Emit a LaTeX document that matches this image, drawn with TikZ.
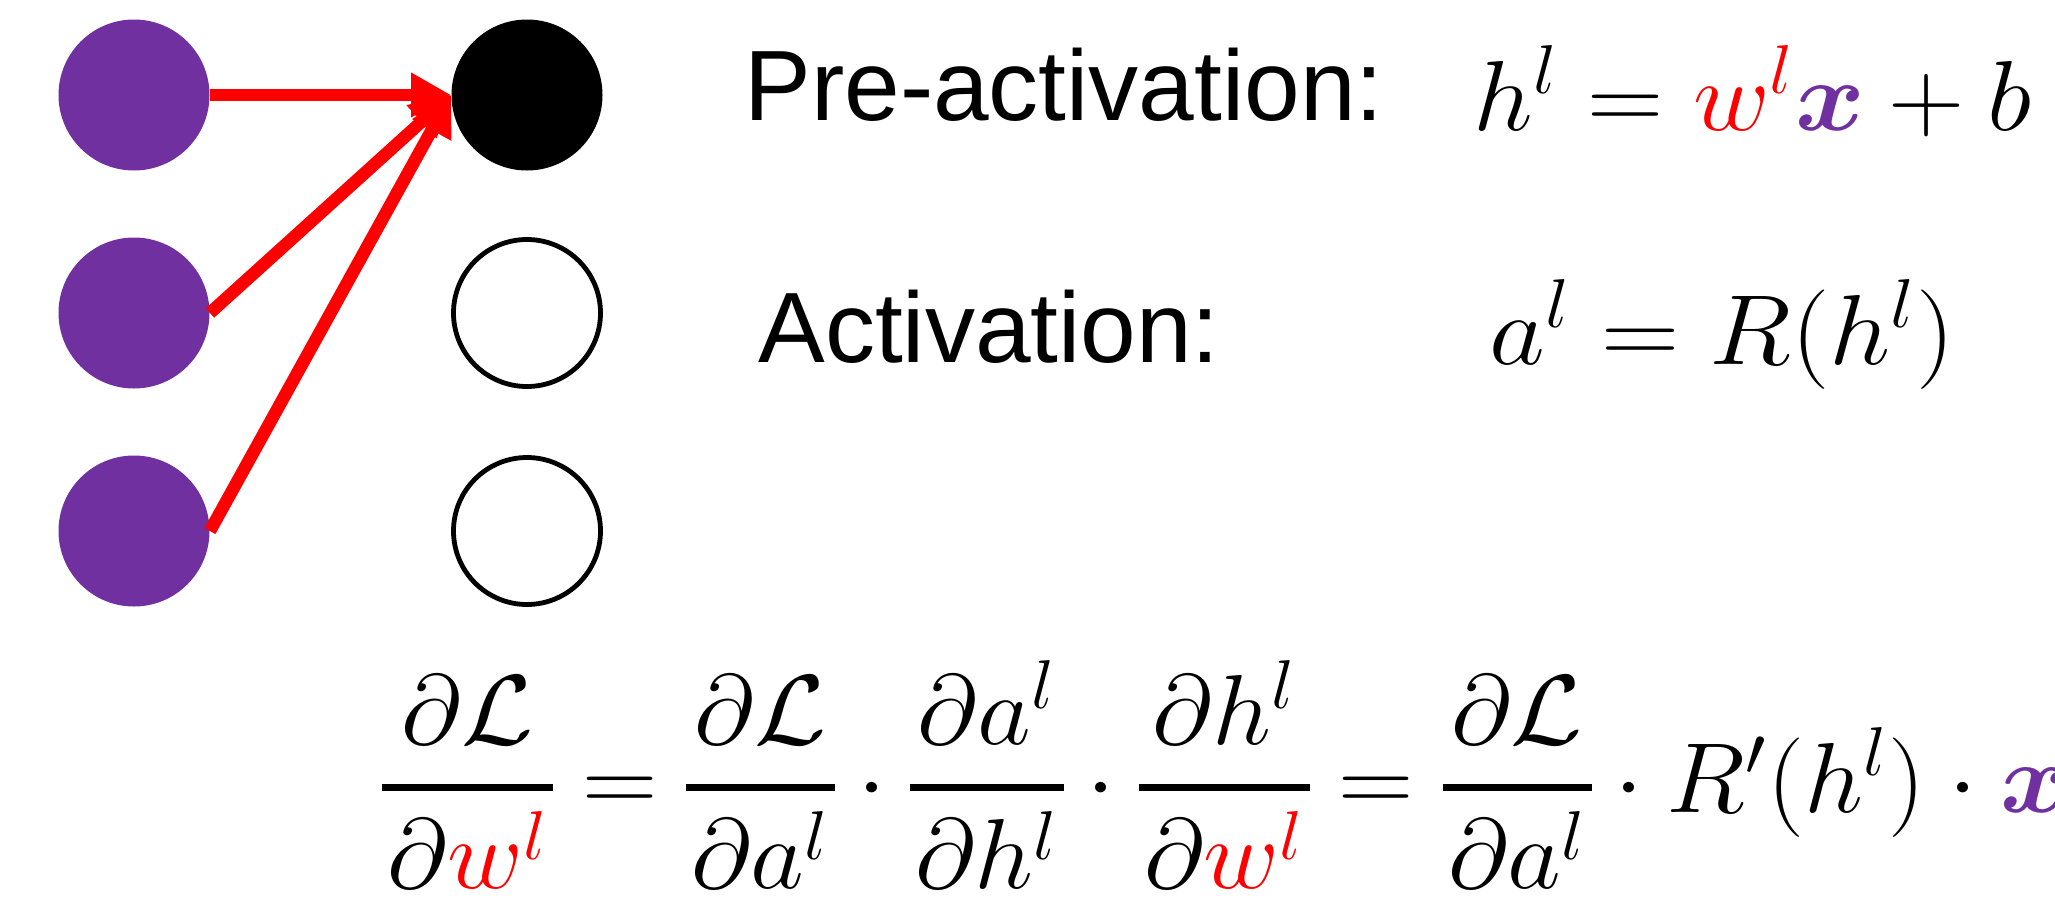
\documentclass[tikz,border=0pt]{standalone}
\usepackage{amsmath}
\usepackage{bm}
\usepackage{graphicx}
\usepackage[no-math]{fontspec}
\newfontfamily\arial{Liberation Sans}
\usetikzlibrary{arrows.meta}
\definecolor{mypurple}{HTML}{7030A0}
\definecolor{myred}{HTML}{FF0000}
\tikzset{
  inneuron/.style={circle,fill=mypurple,draw=none,minimum size=75.5pt,inner sep=0pt},
  actneuron/.style={circle,fill=black,draw=none,minimum size=75.5pt,inner sep=0pt},
  openneuron/.style={circle,draw=black,line width=2.4pt,fill=white,minimum size=73.5pt,inner sep=0pt},
  weight/.style={draw=myred,line width=6.3pt,-{Triangle[length=20pt,width=21pt]}},
  lbl/.style={font=\arial\fontsize{50}{60}\selectfont,inner sep=0pt,anchor=base west},
  eq/.style={inner sep=0pt,anchor=base west},
}
\newcommand{\wl}{{\color{myred}w^{l}}}
\newcommand{\xv}{{\color{mypurple}\bm{x}}}
\newcommand{\fr}[2]{\kern-1.3pt\genfrac{}{}{1.75pt}{0}{#1}{\kern1.3pt#2\kern1.3pt}\kern-1.3pt}
\newcommand{\bigmath}[2]{\scalebox{#1}[2]{\fontsize{25}{30}\selectfont$#2$}}
\begin{document}
\begin{tikzpicture}[x=0.5pt,y=-0.5pt]
\useasboundingbox (0,0) rectangle (2055,905);
\clip (0,0) rectangle (2055,905);
\node[inneuron] (p1) at (134,95) {};
\node[inneuron] (p2) at (134,313) {};
\node[inneuron] (p3) at (134,531) {};
\node[actneuron] (o1) at (527,95) {};
\node[openneuron] (o2) at (527,313) {};
\node[openneuron] (o3) at (527,531) {};
\draw[weight] (p1.east) -- (o1.west);
\draw[weight] (p2.east) -- (o1.west);
\draw[weight] (p3.east) -- (o1.west);
\node[lbl] (pre) at (744,120) {Pre-activation:};
\node[lbl] (act) at (758,362) {Activation:};
\node[eq] (preq) at (1473,130) {\bigmath{2.125}{h^{l}=\wl\xv+b}};
\node[eq] (acteq) at (1489,364) {\bigmath{2.18}{a^{l}=R(h^{l})}};
\node[eq] (grad) at (382,812) {\bigmath{2.1}{\fr{\partial\mathcal{L}}{\partial \wl}=\fr{\partial\mathcal{L}}{\partial a^{l}}\cdot\fr{\partial a^{l}}{\partial h^{l}}\cdot\fr{\partial h^{l}}{\partial \wl}=\fr{\partial\mathcal{L}}{\partial a^{l}}\cdot R'(h^{l})\cdot\xv}};
\end{tikzpicture}
\end{document}
